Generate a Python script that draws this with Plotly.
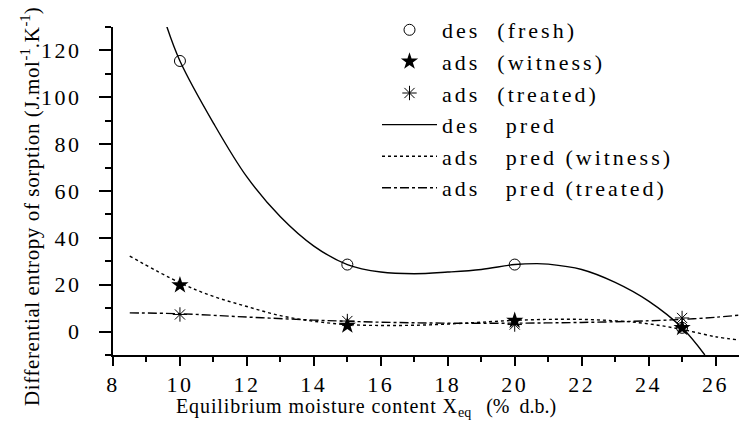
import plotly.graph_objects as go

# Measured points
pts_x = [10, 15, 20, 25]
des_fresh = [115.5, 28.6, 28.6, 1.6]
ads_witness = [19.8, 2.6, 4.7, 1.6]
ads_treated = [7.3, 4.5, 3.0, 5.8]

# Predicted curves
des_pred_x = [9.6, 10, 11, 12, 13, 14, 15, 16, 17, 18, 19, 20, 20.65, 21, 22, 23, 24, 25, 25.68]
des_pred_y = [130.5, 115.5, 89, 66, 49, 36.5, 28.6, 25.4, 24.7, 25.4, 26.5, 28.6, 29.0, 28.8, 26.5, 21, 13, 1.6, -10]

wit_pred_x = [8.5, 10, 11, 12, 13, 14, 15, 16, 17, 18, 19, 20, 21, 22, 23, 24, 25, 26, 26.7]
wit_pred_y = [32.2, 20.8, 15, 10.7, 6.8, 4.4, 3.0, 2.6, 2.7, 3.2, 4.0, 4.8, 5.2, 5.2, 4.6, 3.3, 0.9, -2.2, -3.6]

trt_pred_x = [8.5, 10, 12, 14, 16, 18, 20, 22, 24, 25, 26, 26.7]
trt_pred_y = [8, 7.6, 6.2, 4.9, 4.0, 3.6, 3.6, 3.9, 4.6, 5.2, 6.1, 7.0]

x_tickvals = [8, 10, 12, 14, 16, 18, 20, 22, 24, 26]
y_tickvals = [0, 20, 40, 60, 80, 100, 120]

names = ["des\u00a0\u00a0(fresh)", "ads\u00a0\u00a0(witness)", "ads\u00a0\u00a0(treated)",
         "des\u00a0\u00a0\u00a0pred", "ads\u00a0\u00a0\u00a0pred\u00a0(witness)", "ads\u00a0\u00a0\u00a0pred\u00a0(treated)"]


def spaced(t, px):
    return '<span style="letter-spacing:%spx">%s</span>' % (px, t)


FONT = "Liberation Serif"
fig = go.Figure()
fig.add_trace(go.Scatter(x=pts_x, y=des_fresh, mode="markers", name=spaced(names[0], 3),
                         marker=dict(symbol="circle-open", size=11, color="black", line=dict(width=1))))
fig.add_trace(go.Scatter(x=pts_x, y=ads_witness, mode="markers", name=spaced(names[1], 3),
                         marker=dict(symbol="star", size=13, color="black", line=dict(width=0))))
fig.add_trace(go.Scatter(x=pts_x, y=ads_treated, mode="markers", name=spaced(names[2], 3),
                         marker=dict(symbol="asterisk-open", size=12, color="black", line=dict(width=1, color="black"))))
fig.add_trace(go.Scatter(x=des_pred_x, y=des_pred_y, mode="lines", name=spaced(names[3], 3),
                         line=dict(color="black", width=1.4, shape="spline")))
fig.add_trace(go.Scatter(x=wit_pred_x, y=wit_pred_y, mode="lines", name=spaced(names[4], 3),
                         line=dict(color="black", width=1.4, dash="dot", shape="spline")))
fig.add_trace(go.Scatter(x=trt_pred_x, y=trt_pred_y, mode="lines", name=spaced(names[5], 3),
                         line=dict(color="black", width=1.4, dash="dashdot", shape="spline")))

fig.update_layout(
    width=739, height=429,
    margin=dict(l=113, r=0, t=27, b=74),
    paper_bgcolor="white", plot_bgcolor="white",
    font=dict(family=FONT, color="black", size=21),
    showlegend=True,
    legend=dict(x=(377 - 113) / 626, y=(355 - 9) / 328, xanchor="left", yanchor="top",
                bgcolor="rgba(0,0,0,0)", font=dict(family=FONT, size=22),
                itemwidth=55, tracegroupgap=0),
    xaxis=dict(range=[8, 26.7], showgrid=False, zeroline=False,
               tickmode="array", tickvals=x_tickvals,
               ticktext=[spaced(str(v), 2.5) for v in x_tickvals],
               showline=True, linecolor="black", linewidth=2,
               ticks="outside", ticklen=9, tickwidth=2, tickcolor="black",
               tickfont=dict(family=FONT, size=22),
               minor=dict(dtick=1, tick0=8, ticks="outside", ticklen=5, tickwidth=2, tickcolor="black")),
    yaxis=dict(range=[-10, 130], showgrid=False, zeroline=False,
               tickmode="array", tickvals=y_tickvals,
               ticktext=[spaced(str(v), 2.5) for v in y_tickvals],
               showline=True, linecolor="black", linewidth=2,
               ticks="outside", ticklen=12, tickwidth=2, tickcolor="black",
               ticklabelstandoff=13,
               tickfont=dict(family=FONT, size=22),
               minor=dict(dtick=10, tick0=0, ticks="outside", ticklen=6, tickwidth=2, tickcolor="black")),
    annotations=[
        dict(text=spaced("Equilibrium moisture content X", 0.9) + "<sub>eq</sub>"
             + "\u00a0\u00a0\u00a0(%\u00a0\u00a0d.b.)",
             xref="paper", yref="paper", x=(366 - 113) / 626, y=-(393 - 355) / 328,
             xanchor="center", yanchor="top", showarrow=False,
             font=dict(family=FONT, size=20)),
        dict(text=spaced("Differential entropy of sorption (J.mol", 0.6) + "<sup>-1</sup>"
             + spaced(".K", 0.6) + "<sup>-1</sup>" + ")",
             xref="paper", yref="paper", x=-(113 - 30) / 626, y=(355 - 207) / 328,
             xanchor="center", yanchor="middle", textangle=-90, showarrow=False,
             font=dict(family=FONT, size=21)),
    ],
)

fig.write_html("out.html", config={"displayModeBar": False},
               post_script="document.body.style.margin='0';")
